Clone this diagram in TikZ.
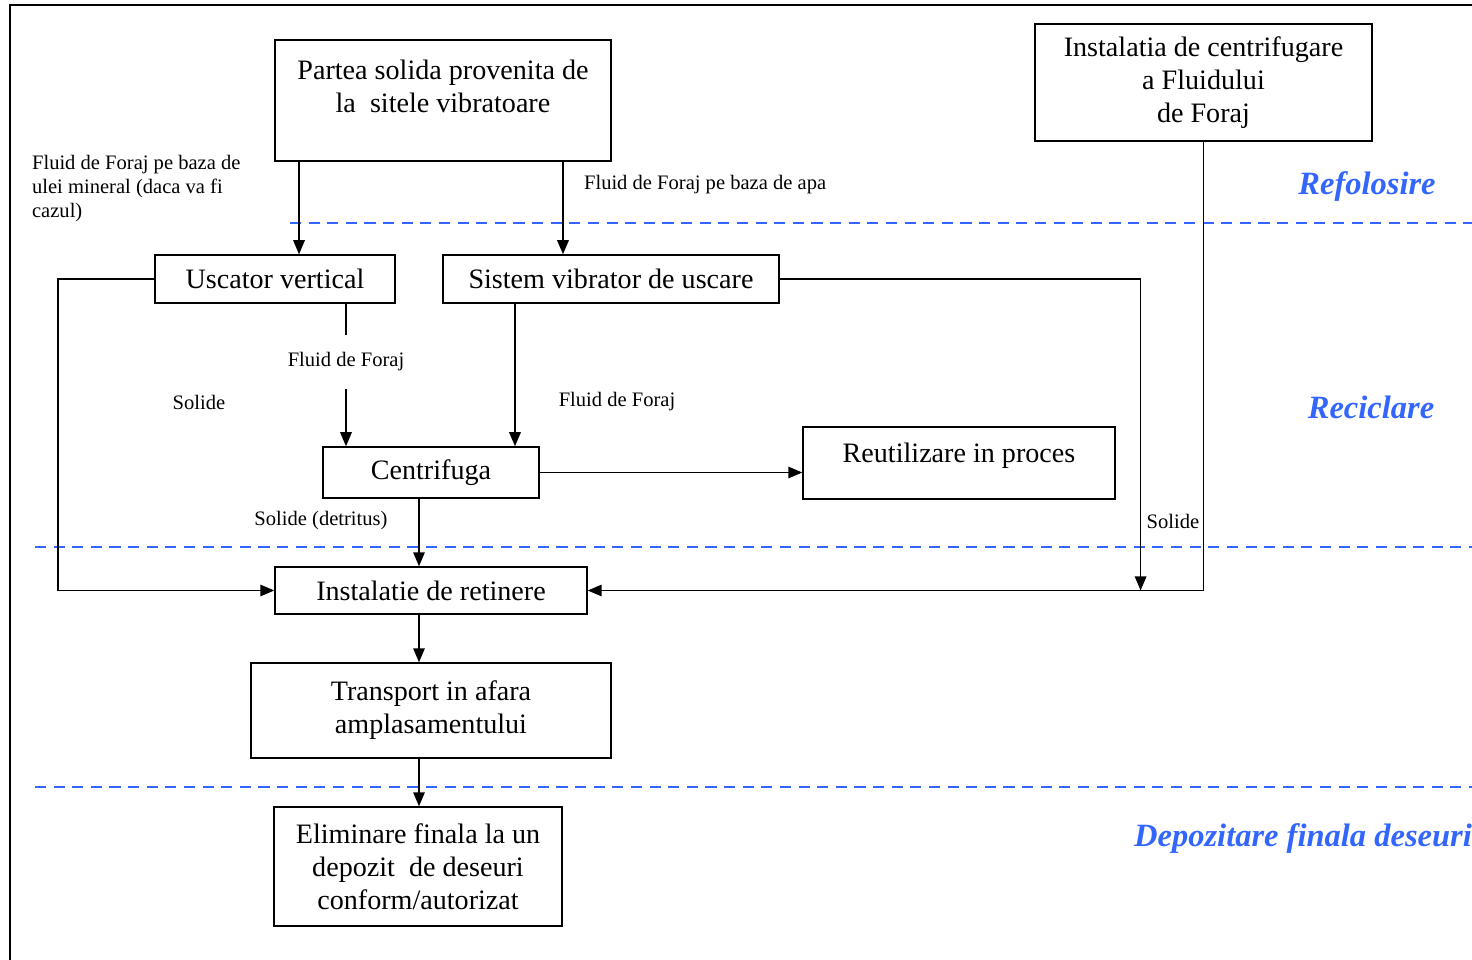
\documentclass[tikz,border=0pt]{standalone}
\usepackage{fontspec}
\setmainfont{Liberation Serif}
\usetikzlibrary{arrows.meta}
\definecolor{zoneblue}{RGB}{51,102,255}

\begin{document}
\begin{tikzpicture}[x=0.02cm, y=-0.02cm,
  >={Triangle[length=8pt,width=6.5pt]},
  box/.style={draw, line width=0.8pt, inner sep=0pt, align=center, font=\fontsize{16}{18.8}\selectfont},
  big/.style={align=center, font=\fontsize{16}{18.8}\selectfont},
  small/.style={inner sep=1pt, font=\fontsize{11.7}{13.7}\selectfont},
  zone/.style={zoneblue, line width=1.4pt, dash pattern=on 6.3pt off 4.3pt},
  zonetext/.style={zoneblue, font=\fontsize{18.5}{22}\selectfont\bfseries\itshape},
  flow/.style={line width=1pt}]
\useasboundingbox (0,0) rectangle (1472,960);
\draw[line width=1pt] (10,960) -- (10,5) -- (1472,5);

\node[box, minimum width=6.72cm, minimum height=2.42cm] (partea) at (443,100.5) {};
\node[big] (parteatext) at (443,86) {Partea solida provenita de\\la~ sitele vibratoare};
\node[box, minimum width=6.74cm, minimum height=2.34cm] (instal) at (1203.5,82.5) {Instalatia de centrifugare\\a Fluidului\\de Foraj};
\node[box, minimum width=4.8cm, minimum height=0.96cm] (uscator) at (275,279) {Uscator vertical};
\node[box, minimum width=6.72cm, minimum height=0.96cm] (sistem) at (611,279) {Sistem vibrator de uscare};
\node[box, minimum width=4.32cm, minimum height=1.02cm] (centrifuga) at (431,472.5) {Centrifuga};
\node[box, minimum width=6.24cm, minimum height=1.44cm] (reutilizare) at (959,463) {};
\node[big] (reutiltext) at (959,456) {Reutilizare in proces};
\node[box, minimum width=6.24cm, minimum height=0.94cm] (retinere) at (431,590.5) {Instalatie de retinere};
\node[box, minimum width=7.2cm, minimum height=1.9cm] (transport) at (431,710.5) {Transport in afara\\amplasamentului};
\node[box, minimum width=5.76cm, minimum height=2.38cm] (eliminare) at (418,866.5) {Eliminare finala la un\\depozit~ de deseuri\\conform/autorizat};

\node[small, anchor=north west, align=left] (fluidulei) at (30,153) {Fluid de Foraj pe baza de\\ulei mineral (daca va fi\\cazul)};
\node[small, anchor=west] (fluidapa) at (582,185) {Fluid de Foraj pe baza de apa};
\node[small, minimum height=1.06cm] (fluidA) at (346,362) {Fluid de Foraj};
\node[small] (fluidB) at (617,402) {Fluid de Foraj};
\node[small] (solA) at (199,402) {Solide};
\node[small] (solB) at (321,521) {Solide (detritus)};
\node[small] (solC) at (1173,521) {Solide};

\draw[zone] (290,223) -- (1472,223);
\draw[zone] (35,547) -- (1472,547);
\draw[zone] (35,787) -- (1472,787);
\node[zonetext] (refol) at (1367,187) {Refolosire};
\node[zonetext] (recic) at (1371,407) {Reciclare};
\node[zonetext] (depoz) at (1303,839) {Depozitare finala deseuri};

\draw[flow,->] ([xshift=-2.88cm]partea.south) -- ([xshift=-2.88cm]partea.south |- uscator.north);
\draw[flow,->] ([xshift=2.4cm]partea.south) -- ([xshift=2.4cm]partea.south |- sistem.north);
\draw[flow] (fluidA.north |- uscator.south) -- (fluidA.north);
\draw[flow,->] (fluidA.south) -- (fluidA.south |- centrifuga.north);
\draw[flow,->] ([xshift=1.68cm]centrifuga.north |- sistem.south) -- ([xshift=1.68cm]centrifuga.north);
\draw[flow,->] (uscator.west) -- ++(-1.92cm,0) |- (retinere.west);
\draw[flow,->] (centrifuga.east) -- (centrifuga.east -| reutilizare.west);
\draw[flow,->] ([xshift=-0.24cm]centrifuga.south) -- ([xshift=-0.24cm]retinere.north);
\draw[flow,->] (sistem.east) -- ++(7.22cm,0) coordinate (turnC) -- (turnC |- retinere.east);
\draw[flow,->] (instal.south) |- (retinere.east);
\draw[flow,->] ([xshift=-0.24cm]retinere.south) -- ([xshift=-0.24cm]transport.north);
\draw[flow,->] ([xshift=-0.24cm]transport.south) -- ([xshift=-0.24cm]transport.south |- eliminare.north);
\end{tikzpicture}
\end{document}
